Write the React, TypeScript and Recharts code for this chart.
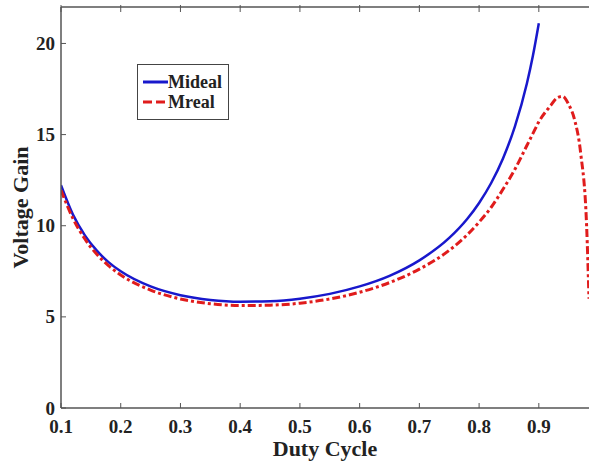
import { LineChart, Line, XAxis, YAxis, Legend, Label } from 'recharts'

// Duty cycle samples (x) and the two gain curves read at those points
const duty = [
  0.1, 0.12, 0.14, 0.16, 0.18, 0.2, 0.25, 0.3, 0.35, 0.4, 0.45, 0.5, 0.55, 0.6,
  0.65, 0.7, 0.75, 0.78, 0.8, 0.82, 0.84, 0.86, 0.88, 0.89, 0.9, 0.92, 0.93,
  0.94, 0.95, 0.96, 0.97, 0.98, 0.984,
]
const mIdeal = [
  12.22, 10.61, 9.47, 8.63, 7.99, 7.5, 6.67, 6.19, 5.93, 5.83, 5.86, 6.0, 6.26,
  6.67, 7.25, 8.1, 9.33, 10.37, 11.25, 12.33, 13.69, 15.45, 17.8, 19.31, 21.11,
  null, null, null, null, null, null, null, null,
]
const mReal = [
  11.95, 10.4, 9.27, 8.43, 7.8, 7.3, 6.47, 5.98, 5.72, 5.62, 5.64, 5.75, 5.98,
  6.35, 6.88, 7.62, 8.65, 9.5, 10.2, 11.0, 12.0, 13.1, 14.4, 15.05, 15.7, 16.6,
  17.0, 17.1, 16.65, 15.8, 14.0, 10.0, 6.0,
]
const xTicks = [0.1, 0.2, 0.3, 0.4, 0.5, 0.6, 0.7, 0.8, 0.9]
const yTicks = [0, 5, 10, 15, 20]

const data = duty.map((d, i) => ({ duty: d, Mideal: mIdeal[i], Mreal: mReal[i] }))

const FONT = '"Liberation Serif", "Times New Roman", serif'
const AXIS = '#555'

const BottomTick = ({ x, y, payload }: any) => (
  <g>
    <line x1={x} y1={y} x2={x} y2={y - 5} stroke={AXIS} />
    <text x={x} y={y + 25} textAnchor="middle" fontFamily={FONT} fontWeight="bold" fontSize={19} fill="#222">
      {payload.value}
    </text>
  </g>
)

const TopTick = ({ x, y }: any) => <line x1={x} y1={y - 2} x2={x} y2={y + 5} stroke={AXIS} />

const LeftTick = ({ x, y, payload }: any) => (
  <g>
    <line x1={x} y1={y} x2={x + 5} y2={y} stroke={AXIS} />
    <text x={x - 6} y={y + 6.5} textAnchor="end" fontFamily={FONT} fontWeight="bold" fontSize={19} fill="#222">
      {payload.value}
    </text>
  </g>
)

const RightTick = ({ x, y }: any) => <line x1={x + 2} y1={y} x2={x - 3} y2={y} stroke={AXIS} />

const LegendBox = ({ payload }: any) => (
  <div
    style={{
      border: '1.5px solid #444',
      background: '#fff',
      width: 92,
      height: 56,
      boxSizing: 'border-box',
      padding: '7px 0 0 5px',
    }}
  >
    {payload.map((entry: any) => (
      <div key={entry.value} style={{ display: 'flex', alignItems: 'center', height: 20 }}>
        <svg width={25} height={6}>
          <line
            x1={0}
            y1={3}
            x2={25}
            y2={3}
            stroke={entry.color}
            strokeWidth={3}
            strokeDasharray={entry.value === 'Mreal' ? '9 4' : undefined}
          />
        </svg>
        <span style={{ fontFamily: FONT, fontWeight: 'bold', fontSize: 18, color: '#222', lineHeight: '20px' }}>
          {entry.value}
        </span>
      </div>
    ))}
  </div>
)

const App = () => {
  return (
    <div style={{ position: 'absolute', left: 0, top: 0, width: 590, height: 463, background: '#fff' }}>
      <LineChart width={590} height={463} data={data} margin={{ top: 6, right: 0, bottom: 0, left: 0 }}>
        <XAxis
          dataKey="duty"
          type="number"
          domain={[0.1, 0.984]}
          ticks={xTicks}
          allowDataOverflow
          height={55}
          tickSize={0}
          tickMargin={0}
          tick={BottomTick}
          axisLine={{ stroke: AXIS, strokeWidth: 1.5 }}
        >
          <Label value="Duty Cycle" position="center" dy={13} fontFamily={FONT} fontWeight="bold" fontSize={22} fill="#222" />
        </XAxis>
        <XAxis
          xAxisId="top"
          orientation="top"
          dataKey="duty"
          type="number"
          domain={[0.1, 0.984]}
          ticks={xTicks}
          allowDataOverflow
          height={1}
          tickSize={0}
          tickMargin={0}
          tick={TopTick}
          axisLine={{ stroke: AXIS, strokeWidth: 1.5 }}
        />
        <YAxis
          type="number"
          domain={[0, 22]}
          ticks={yTicks}
          width={61}
          tickSize={0}
          tickMargin={0}
          tick={LeftTick}
          axisLine={{ stroke: AXIS, strokeWidth: 1.5 }}
        >
          <Label value="Voltage Gain" angle={-90} position="center" dx={-10} fontFamily={FONT} fontWeight="bold" fontSize={22} fill="#222" />
        </YAxis>
        {/* right frame edge sits just past the canvas, only its ticks show */}
        <YAxis
          yAxisId="right"
          orientation="right"
          type="number"
          domain={[0, 22]}
          ticks={yTicks}
          width={1}
          tickSize={0}
          tickMargin={0}
          tick={RightTick}
          axisLine={false}
        />
        <Legend
          layout="vertical"
          align="center"
          verticalAlign="middle"
          wrapperStyle={{ left: 137, top: 64, width: 92 }}
          content={LegendBox}
        />
        <Line
          type="monotone"
          dataKey="Mideal"
          stroke="#1818cc"
          strokeWidth={2.5}
          dot={false}
          isAnimationActive={false}
        />
        <Line
          type="monotone"
          dataKey="Mreal"
          stroke="#e01c1c"
          strokeWidth={3}
          strokeDasharray="8 3 3 3"
          dot={false}
          isAnimationActive={false}
        />
      </LineChart>
    </div>
  )
}

export default App
